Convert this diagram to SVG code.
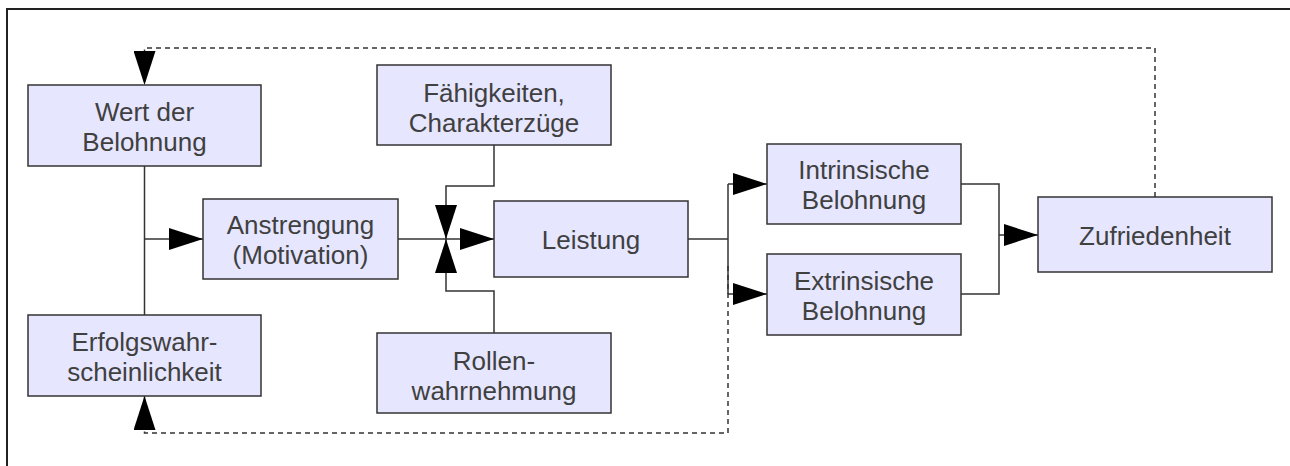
<svg xmlns="http://www.w3.org/2000/svg" width="1290" height="466" viewBox="0 0 1290 466">
<defs>
<style>
.box{fill:#e6e6ff;stroke:#333;stroke-width:1.5}
.t{font-family:"Liberation Sans",Arial,sans-serif;font-size:26px;fill:#404040;text-anchor:middle}
.ln{fill:none;stroke:#333;stroke-width:1.5}
.da{fill:none;stroke:#333;stroke-width:1.5;stroke-dasharray:5 4}
</style>
<marker id="ah" markerUnits="userSpaceOnUse" markerWidth="34" markerHeight="22" refX="34" refY="11" orient="auto" viewBox="0 0 34 22">
<path d="M0,0 L34,11 L0,22 Z" fill="#000"/>
</marker>
</defs>
<rect width="1290" height="466" fill="#fff"/>
<path d="M7,470 V9 H1295" fill="none" stroke="#222" stroke-width="2"/>
<g id="connectors">
<path class="ln" d="M144.5,166 V315"/>
<path class="ln" d="M144.5,239 H203" marker-end="url(#ah)"/>
<path class="ln" d="M398,239 H494" marker-end="url(#ah)"/>
<path class="ln" d="M494,145 V186 H446 V239" marker-end="url(#ah)"/>
<path class="ln" d="M494,333 V291 H446 V239" marker-end="url(#ah)"/>
<path class="ln" d="M688,239 H728"/>
<path class="ln" d="M728,184 V294"/>
<path class="ln" d="M728,184 H767" marker-end="url(#ah)"/>
<path class="ln" d="M728,294 H767" marker-end="url(#ah)"/>
<path class="ln" d="M961,184 H999 V294 H961"/>
<path class="ln" d="M999,235 H1038" marker-end="url(#ah)"/>
<path class="da" d="M1155,197 V48 H144.5 V85" marker-end="url(#ah)"/>
<path class="da" d="M728,266 V433 H144.5 V396" marker-end="url(#ah)"/>
</g>
<g id="wert">
<rect class="box" x="28" y="85" width="233" height="81"/>
<text class="t" x="144.5" y="120.5">Wert der</text>
<text class="t" x="144.5" y="150.5">Belohnung</text>
</g>
<g id="erfolg">
<rect class="box" x="28" y="315" width="233" height="81"/>
<text class="t" x="144.5" y="350.5">Erfolgswahr-</text>
<text class="t" x="144.5" y="380.5">scheinlichkeit</text>
</g>
<g id="anstrengung">
<rect class="box" x="203" y="199" width="195" height="80"/>
<text class="t" x="300.5" y="234">Anstrengung</text>
<text class="t" x="300.5" y="264">(Motivation)</text>
</g>
<g id="leistung">
<rect class="box" x="494" y="201" width="194" height="76"/>
<text class="t" x="591" y="249">Leistung</text>
</g>
<g id="faehigkeiten">
<rect class="box" x="377" y="65" width="234" height="80"/>
<text class="t" x="494" y="101.5">Fähigkeiten,</text>
<text class="t" x="494" y="131.5">Charakterzüge</text>
</g>
<g id="rollen">
<rect class="box" x="377" y="333" width="234" height="80"/>
<text class="t" x="494" y="369.5">Rollen-</text>
<text class="t" x="494" y="399.5">wahrnehmung</text>
</g>
<g id="intrinsisch">
<rect class="box" x="767" y="144" width="194" height="80"/>
<text class="t" x="864" y="179">Intrinsische</text>
<text class="t" x="864" y="209">Belohnung</text>
</g>
<g id="extrinsisch">
<rect class="box" x="767" y="254" width="194" height="81"/>
<text class="t" x="864" y="289.5">Extrinsische</text>
<text class="t" x="864" y="319.5">Belohnung</text>
</g>
<g id="zufriedenheit">
<rect class="box" x="1038" y="197" width="234" height="75"/>
<text class="t" x="1155" y="245">Zufriedenheit</text>
</g>
</svg>
